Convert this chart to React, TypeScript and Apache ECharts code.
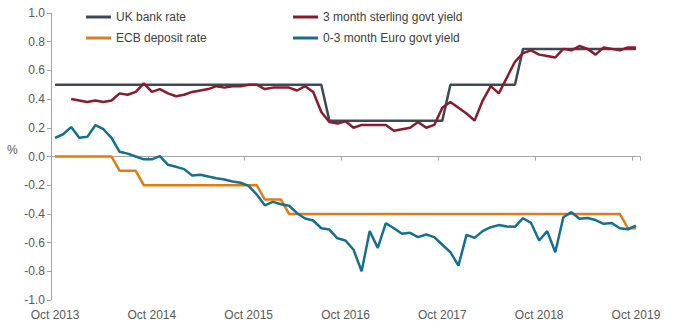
import React, { useEffect, useRef } from "react";
import * as echarts from "echarts";

const MONTHS = ["Jan", "Feb", "Mar", "Apr", "May", "Jun", "Jul", "Aug", "Sep", "Oct", "Nov", "Dec"];
// Monthly categories Oct 2013 .. Oct 2019
const categories: string[] = [];
for (let y = 2013, m = 9; y < 2019 || (y === 2019 && m <= 9); ) {
  categories.push(`${MONTHS[m]} ${y}`);
  m++;
  if (m > 11) { m = 0; y++; }
}

const ukBankRate = [
  0.5, 0.5, 0.5, 0.5, 0.5, 0.5, 0.5, 0.5, 0.5, 0.5, 0.5, 0.5,
  0.5, 0.5, 0.5, 0.5, 0.5, 0.5, 0.5, 0.5, 0.5, 0.5, 0.5, 0.5,
  0.5, 0.5, 0.5, 0.5, 0.5, 0.5, 0.5, 0.5, 0.5, 0.5, 0.25, 0.25,
  0.25, 0.25, 0.25, 0.25, 0.25, 0.25, 0.25, 0.25, 0.25, 0.25, 0.25, 0.25,
  0.25, 0.5, 0.5, 0.5, 0.5, 0.5, 0.5, 0.5, 0.5, 0.5, 0.75, 0.75,
  0.75, 0.75, 0.75, 0.75, 0.75, 0.75, 0.75, 0.75, 0.75, 0.75, 0.75, 0.75,
  0.75,
];

const sterling3m = [
  null, null, 0.40, 0.39, 0.38, 0.39, 0.38, 0.39, 0.44, 0.43, 0.45, 0.51,
  0.45, 0.47, 0.44, 0.42, 0.43, 0.45, 0.46, 0.47, 0.49, 0.48, 0.49, 0.49,
  0.50, 0.50, 0.47, 0.48, 0.48, 0.48, 0.46, 0.49, 0.45, 0.31, 0.24, 0.23,
  0.245, 0.20, 0.22, 0.22, 0.22, 0.22, 0.18, 0.19, 0.20, 0.24, 0.20, 0.22,
  0.34, 0.38, 0.34, 0.30, 0.25, 0.39, 0.49, 0.44, 0.55, 0.66, 0.72, 0.74,
  0.71, 0.70, 0.69, 0.75, 0.74, 0.77, 0.75, 0.71, 0.76, 0.75, 0.74, 0.76,
  0.76,
];

const ecbDepositRate = [
  0, 0, 0, 0, 0, 0, 0, 0, -0.1, -0.1, -0.1, -0.2,
  -0.2, -0.2, -0.2, -0.2, -0.2, -0.2, -0.2, -0.2, -0.2, -0.2, -0.2, -0.2,
  -0.2, -0.2, -0.3, -0.3, -0.3, -0.4, -0.4, -0.4, -0.4, -0.4, -0.4, -0.4,
  -0.4, -0.4, -0.4, -0.4, -0.4, -0.4, -0.4, -0.4, -0.4, -0.4, -0.4, -0.4,
  -0.4, -0.4, -0.4, -0.4, -0.4, -0.4, -0.4, -0.4, -0.4, -0.4, -0.4, -0.4,
  -0.4, -0.4, -0.4, -0.4, -0.4, -0.4, -0.4, -0.4, -0.4, -0.4, -0.4, -0.5,
  -0.5,
];

const euro03m = [
  0.13, 0.155, 0.205, 0.13, 0.137, 0.218, 0.19, 0.13, 0.033, 0.02, 0.0, -0.02,
  -0.02, 0.003, -0.058, -0.072, -0.088, -0.132, -0.127, -0.139, -0.151, -0.16, -0.174, -0.183,
  -0.205, -0.265, -0.34, -0.316, -0.333, -0.343, -0.395, -0.432, -0.446, -0.5, -0.509, -0.57,
  -0.585, -0.65, -0.8, -0.52, -0.637, -0.465, -0.5, -0.539, -0.532, -0.562, -0.544, -0.562,
  -0.615, -0.667, -0.76, -0.546, -0.567, -0.52, -0.493, -0.478, -0.488, -0.49, -0.43, -0.463,
  -0.585, -0.52, -0.667, -0.423, -0.388, -0.434, -0.428, -0.443, -0.469, -0.463, -0.5, -0.507,
  -0.481,
];

const yTicks = { min: -1, max: 1, interval: 0.2 };

const FONT = "'Liberation Sans', Arial, sans-serif";
const AXIS_GRAY = "#a6a6a6";
const TEXT_GRAY = "#595959";

export default function App() {
  const ref = useRef<HTMLDivElement>(null);
  useEffect(() => {
    if (!ref.current) return;
    const chart = echarts.init(ref.current, undefined, { renderer: "svg" });
    const legendText = { fontFamily: FONT, fontSize: 12, color: "#404040", lineHeight: 14 };
    chart.setOption({
      animation: false,
      backgroundColor: "#ffffff",
      textStyle: { fontFamily: FONT },
      grid: { left: 51, right: 40, top: 13, bottom: 30, containLabel: false },
      legend: [
        {
          data: ["UK bank rate", "ECB deposit rate"],
          orient: "vertical",
          left: 86,
          top: 10,
          itemWidth: 25,
          itemHeight: 3,
          itemGap: 7,
          icon: "rect",
          padding: 0,
          textStyle: legendText,
        },
        {
          data: ["3 month sterling govt yield", "0-3 month Euro govt yield"],
          orient: "vertical",
          left: 293,
          top: 10,
          itemWidth: 25,
          itemHeight: 3,
          itemGap: 7,
          icon: "rect",
          padding: 0,
          textStyle: legendText,
        },
      ],
      xAxis: [
        {
          type: "category",
          data: categories,
          boundaryGap: true,
          position: "bottom",
          axisLine: { show: false, onZero: false },
          axisTick: { show: false },
          axisLabel: {
            interval: 11,
            margin: 9,
            color: TEXT_GRAY,
            fontSize: 12,
            fontFamily: FONT,
          },
          splitLine: { show: false },
        },
        {
          type: "category",
          data: categories,
          boundaryGap: true,
          position: "bottom",
          axisLine: { show: true, onZero: true, lineStyle: { color: AXIS_GRAY, width: 1 } },
          axisTick: { show: true, interval: 11, length: 4, inside: false, lineStyle: { color: AXIS_GRAY } },
          axisLabel: { show: false },
          splitLine: { show: false },
        },
      ],
      yAxis: {
        type: "value",
        min: yTicks.min,
        max: yTicks.max,
        interval: yTicks.interval,
        axisLine: { show: true, lineStyle: { color: AXIS_GRAY } },
        axisTick: { show: true, length: 4, lineStyle: { color: AXIS_GRAY } },
        axisLabel: {
          color: TEXT_GRAY,
          fontSize: 12,
          fontFamily: FONT,
          margin: 6,
          formatter: (v: number) => v.toFixed(1),
        },
        splitLine: { show: false },
      },
      graphic: [
        {
          type: "text",
          left: 7,
          top: 144,
          style: { text: "%", fill: TEXT_GRAY, font: `12px ${FONT}` },
        },
      ],
      series: [
        {
          name: "UK bank rate",
          type: "line",
          data: ukBankRate,
          showSymbol: false,
          color: "#3e4a52",
          lineStyle: { width: 2.5, color: "#3e4a52" },
          xAxisIndex: 0,
        },
        {
          name: "ECB deposit rate",
          type: "line",
          data: ecbDepositRate,
          showSymbol: false,
          color: "#e37b14",
          lineStyle: { width: 2.5, color: "#e37b14" },
          xAxisIndex: 0,
        },
        {
          name: "3 month sterling govt yield",
          type: "line",
          data: sterling3m,
          showSymbol: false,
          color: "#8c1a2c",
          lineStyle: { width: 2.5, color: "#8c1a2c" },
          xAxisIndex: 0,
        },
        {
          name: "0-3 month Euro govt yield",
          type: "line",
          data: euro03m,
          showSymbol: false,
          color: "#15708f",
          lineStyle: { width: 2.5, color: "#15708f" },
          xAxisIndex: 0,
        },
      ],
    });
    return () => chart.dispose();
  }, []);
  return (
    <div
      ref={ref}
      style={{ position: "fixed", left: 0, top: 0, width: 680, height: 330 }}
    />
  );
}
